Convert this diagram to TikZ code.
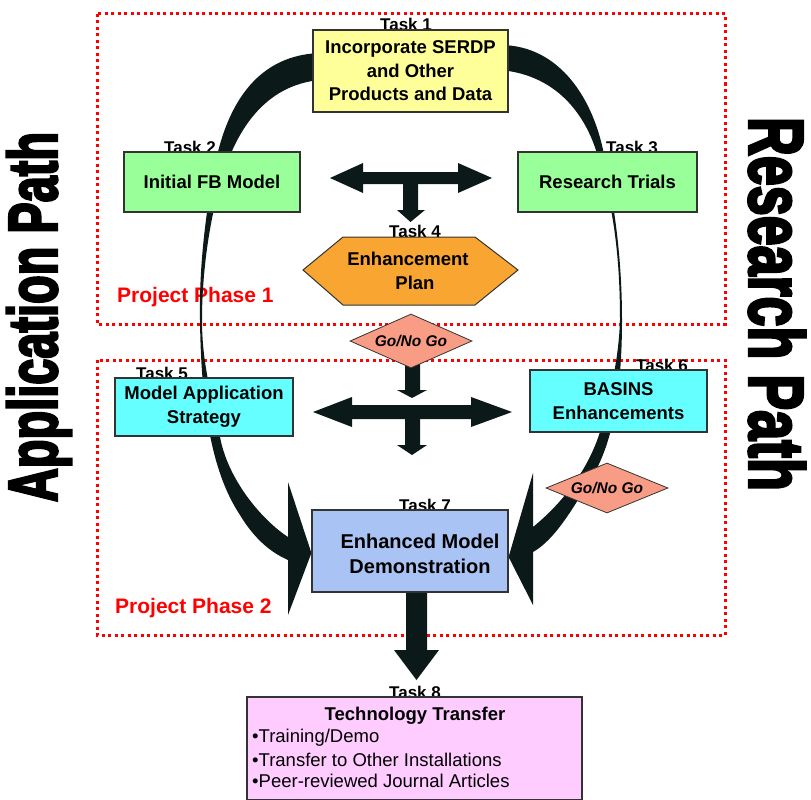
\documentclass[tikz,border=0pt]{standalone}
\usepackage{fontspec}
\setmainfont{Liberation Sans}
\newfontfamily\heavyfont[FakeBold=4]{Liberation Sans Bold}
\usetikzlibrary{shapes.geometric}
\definecolor{arrowc}{HTML}{0C1919}
\definecolor{boxline}{HTML}{333333}
\definecolor{yel}{HTML}{FFFF99}
\definecolor{grn}{HTML}{99FF99}
\definecolor{org}{HTML}{F9A531}
\definecolor{sal}{HTML}{F99C85}
\definecolor{cyn}{HTML}{66FFFF}
\definecolor{blu}{HTML}{A8C3F4}
\definecolor{pnk}{HTML}{FFCCFF}
\begin{document}
\begin{tikzpicture}[x=1pt,y=-1pt,
  box/.style={draw=boxline, line width=1.2pt, inner sep=0pt, align=center,
    font=\fontsize{18.5}{23.5}\selectfont\bfseries},
  tasklabel/.style={anchor=base, inner sep=0pt, font=\fontsize{17}{20}\selectfont\bfseries},
  phase/.style={draw=red, line width=3pt, dash pattern=on 3pt off 3.5pt},
  phaselabel/.style={anchor=west, inner sep=0pt, text=red, font=\fontsize{21}{24}\selectfont\bfseries},
  gonogo/.style={shape=diamond, draw=boxline, line width=0.8pt, fill=sal, aspect=2.3, inner sep=0pt,
    minimum width=122pt, minimum height=54pt, font=\fontsize{15.5}{18}\selectfont\bfseries\itshape},
  bigarrow/.style={fill=arrowc},
  bullet/.style={anchor=west, inner sep=0pt, font=\fontsize{18.5}{22}\selectfont}
]
\useasboundingbox (0,0) rectangle (811,800);

% phase frames
\draw[phase] (97,14) rectangle (725,324);
\draw[phase] (97,360) rectangle (725,635);
\node[phaselabel] (ph1) at (117,297) {Project Phase 1};
\node[phaselabel] (ph2) at (115,608) {Project Phase 2};

% side labels
\node[rotate=90, inner sep=0pt] (app) at (39,317) {\heavyfont\resizebox{370pt}{50pt}{Application Path}};
\node[rotate=-90, inner sep=0pt] (res) at (777,304) {\heavyfont\resizebox{374pt}{56pt}{Research Path}};

% task labels (behind boxes)
\node[tasklabel] (l1) at (406,31) {Task 1};
\node[tasklabel] (l2) at (190,153) {Task 2};
\node[tasklabel] (l3) at (632,153) {Task 3};
\node[tasklabel] (l4) at (415,237) {Task 4};
\node[tasklabel] (l5) at (162,379) {Task 5};
\node[tasklabel] (l6) at (662,371) {Task 6};
\node[tasklabel] (l7) at (425,511) {Task 7};
\node[tasklabel] (l8) at (415,698) {Task 8};

% Task 7 (needed for arrow tips)
\node[box, fill=blu, minimum width=196pt, minimum height=82pt] (t7) at (410,551) {};

% big curved arrows
\fill[bigarrow] (320,53) .. controls (260,55) and (228,100) .. (215,165)
  .. controls (205,215) and (199,270) .. (200,320)
  .. controls (201,400) and (210,470) .. (240,515)
  .. controls (255,540) and (272,553) .. (288,560)
  -- (288,615) -- ([yshift=-2pt]t7.west) -- (288,482) -- (288,537)
  .. controls (262,520) and (228,480) .. (220,437)
  .. controls (210,390) and (202,360) .. (202,320)
  .. controls (202,270) and (210,220) .. (220,185)
  .. controls (235,130) and (265,85) .. (320,80) -- cycle;
\fill[bigarrow] (500,45) .. controls (560,45) and (595,100) .. (605,160)
  .. controls (615,210) and (622,260) .. (622,320)
  .. controls (622,400) and (610,450) .. (590,480)
  .. controls (575,505) and (555,540) .. (533,552)
  -- (533,605) -- ([yshift=-6pt]t7.east) -- (533,473) -- (533,527)
  .. controls (560,505) and (590,470) .. (602,425)
  .. controls (614,380) and (619,350) .. (620,320)
  .. controls (620,260) and (614,210) .. (600,165)
  .. controls (590,120) and (560,75) .. (500,70) -- cycle;

% phase 1 double arrow with down stem
\fill[bigarrow] (330,178) -- (363,163) -- (363,172) -- (458,172) -- (458,163) -- (492,178)
  -- (458,193) -- (458,184) -- (363,184) -- (363,193) -- cycle;
\fill[bigarrow] (403,180) -- (418,180) -- (418,210) -- (425,210) -- (410.5,222) -- (397,210) -- (403,210) -- cycle;

% phase 2 arrows
\fill[bigarrow] (405,355) -- (420,355) -- (420,390) -- (427,390) -- (412,398) -- (397,390) -- (405,390) -- cycle;
\fill[bigarrow] (313,412) -- (352,397) -- (352,405) -- (471,405) -- (471,397) -- (512,412)
  -- (471,427) -- (471,419) -- (352,419) -- (352,427) -- cycle;
\fill[bigarrow] (405,415) -- (420,415) -- (420,445) -- (427,445) -- (412,455) -- (397,445) -- (405,445) -- cycle;

% task 7 -> task 8
\fill[bigarrow] (406,590) -- (427,590) -- (427,650) -- (439,650) -- (416.5,680) -- (394,650) -- (406,650) -- cycle;

% boxes
\node[box, fill=yel, minimum width=195pt, minimum height=82pt] (t1) at (410.5,71)
  {Incorporate SERDP\\and Other\\Products and Data};
\node[box, fill=grn, minimum width=176pt, minimum height=60pt] (t2) at (212,182) {Initial FB Model};
\node[box, fill=grn, minimum width=179pt, minimum height=60pt] (t3) at (607.5,182) {Research Trials};
\filldraw[fill=org, draw=boxline, line width=1pt] (303,270) -- (343,237) -- (475,237) -- (518,270) -- (475,305) -- (343,305) -- cycle;
\node[box, draw=none] (t4) at (408,271) {Enhancement\\\hspace*{14pt}Plan};
\node[box, fill=cyn, minimum width=178pt, minimum height=58pt] (t5) at (204,407) {Model Application\\Strategy};
\node[box, fill=cyn, minimum width=177pt, minimum height=62pt] (t6) at (618.5,401) {BASINS\\Enhancements};
\node[box, fill=blu, minimum width=196pt, minimum height=82pt] (t7b) at (410,551) {};
\node[box, draw=none, font=\fontsize{20}{25}\selectfont\bfseries] (t7t) at (420,554) {Enhanced Model\\Demonstration};

% go / no go
\node[gonogo] (g1) at (411,341) {Go/No Go};
\node[gonogo, minimum height=50pt] (g2) at (607,488) {Go/No Go};

% task 8
\node[draw=boxline, line width=1.2pt, fill=pnk, minimum width=335pt, minimum height=103pt, inner sep=0pt] (t8) at (414.5,748.5) {};
\node[inner sep=0pt, font=\fontsize{18.5}{22}\selectfont\bfseries] (t8h) at (415,716) {Technology Transfer};
\node[bullet] (b1) at (252,738) {•Training/Demo};
\node[bullet] (b2) at (252,760) {•Transfer to Other Installations};
\node[bullet] (b3) at (252,781) {•Peer-reviewed Journal Articles};
\end{tikzpicture}
\end{document}
